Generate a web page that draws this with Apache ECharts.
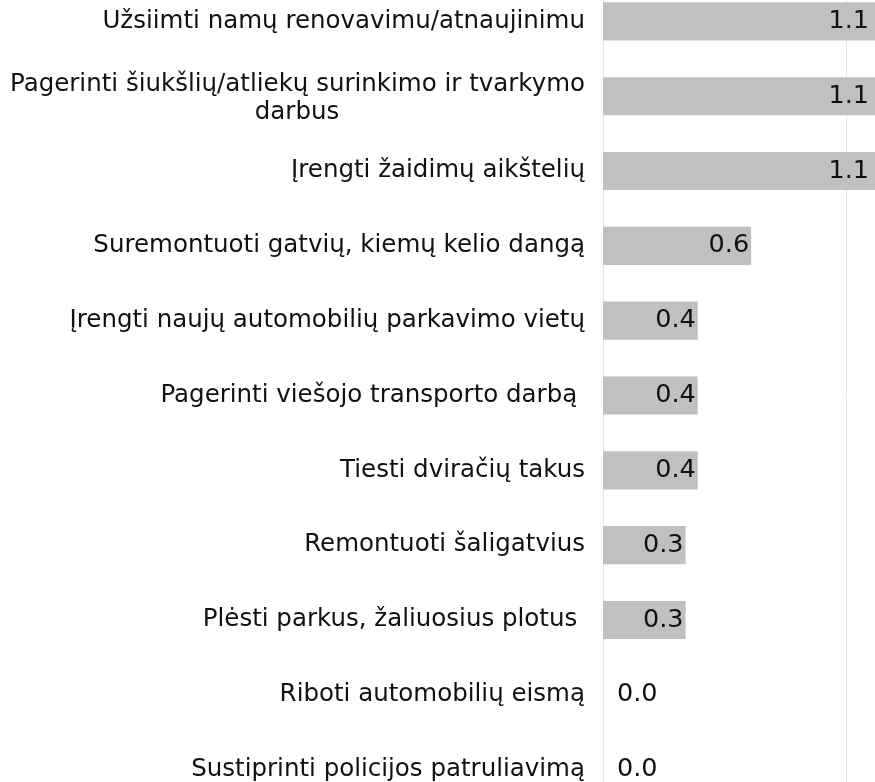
<!DOCTYPE html>
<html><head><meta charset="utf-8">
<script src="https://cdn.jsdelivr.net/npm/echarts@6/dist/echarts.min.js"></script>
<style>html,body{margin:0;padding:0;background:#fff;overflow:hidden}#c{position:absolute;left:0;top:-16px;width:875px;height:823px}</style>
</head><body><div id="c"></div>
<script>
const categories = [
  "Užsiimti namų renovavimu/atnaujinimu",
  "Pagerinti šiukšlių/atliekų surinkimo ir tvarkymo\ndarbus",
  "Įrengti žaidimų aikštelių",
  "Suremontuoti gatvių, kiemų kelio dangą",
  "Įrengti naujų automobilių parkavimo vietų",
  "Pagerinti viešojo transporto darbą ",
  "Tiesti dviračių takus",
  "Remontuoti šaligatvius",
  "Plėsti parkus, žaliuosius plotus ",
  "Riboti automobilių eismą",
  "Sustiprinti policijos patruliavimą"
];
const values = [1.12, 1.12, 1.12, 0.61, 0.39, 0.39, 0.39, 0.34, 0.34, 0.0, 0.0];
const X_MAX = 1.12;

const FONT = "DejaVu Sans";
const FS = 24.5;
const VFS = 25.5;
const LH = 28;
const TXT = '#111111';
const ctx = document.createElement('canvas').getContext('2d');
ctx.font = FS + 'px "' + FONT + '"';

const chart = echarts.init(document.getElementById('c'));
chart.setOption({
  animation: false,
  grid: { left: 603, right: 0, top: 0, bottom: 0, containLabel: false },
  xAxis: {
    type: 'value', min: 0, max: X_MAX, interval: 1,
    axisLabel: { show: false }, axisLine: { show: false }, axisTick: { show: false },
    splitLine: { show: true, lineStyle: { color: '#e6e6e6', width: 1 } }
  },
  yAxis: {
    type: 'category', inverse: true,
    data: categories.map(c => c.indexOf('\n') >= 0
      ? { value: c, textStyle: { padding: [5, 0, 0, 0] } }
      : c),
    axisLine: { show: false }, axisTick: { show: false },
    axisLabel: {
      margin: 18, fontFamily: FONT, fontSize: FS, color: TXT, lineHeight: LH,
      formatter: function (v) {
        const parts = v.split('\n');
        if (parts.length === 1) return '{a|' + v + '}';
        return '{a|' + parts[0] + '}\n{b|' + parts[1] + '}';
      },
      rich: {
        a: { fontFamily: FONT, fontSize: FS, color: TXT, lineHeight: LH },
        b: { fontFamily: FONT, fontSize: FS, color: TXT, lineHeight: LH, align: 'center',
             width: Math.ceil(ctx.measureText("Pagerinti šiukšlių/atliekų surinkimo ir tvarkymo").width) }
      }
    }
  },
  series: [{
    type: 'bar',
    barWidth: '51%',
    itemStyle: { color: '#c0c0c0' },
    data: values.map(v => v === 0
      ? { value: v, label: { position: 'right', distance: 14 } }
      : (v >= X_MAX ? { value: v, label: { distance: 6 } } : { value: v })),
    label: {
      show: true, position: 'insideRight', distance: 2,
      fontFamily: FONT, fontSize: VFS, color: TXT,
      formatter: p => p.value.toFixed(1)
    }
  }]
});
</script></body></html>
